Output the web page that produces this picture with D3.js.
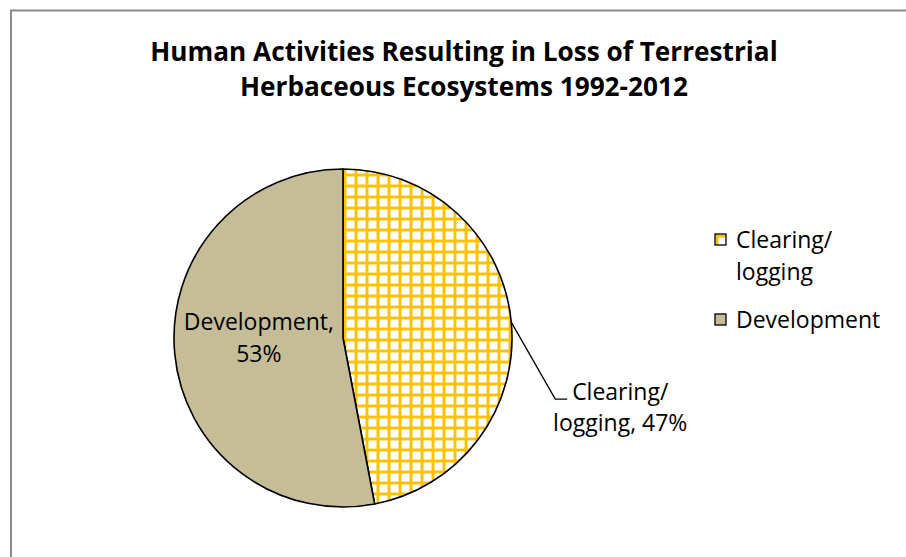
<!DOCTYPE html>
<html>
<head>
<meta charset="utf-8">
<script src="https://cdn.jsdelivr.net/npm/d3@7"></script>
<style>
  body { margin: 0; background: #fff; }
  text { font-family: "Open Sans", Lato, sans-serif; fill: #000; }
</style>
</head>
<body>
<div id="chart"></div>
<script>
const categories = ["Clearing/logging", "Development"];
const values = [47, 53];
const labelLines = [["Clearing/", "logging, 47%"], ["Development,", "53%"]];
const legendLines = [["Clearing/", "logging"], ["Development"]];
const titleLines = ["Human Activities Resulting in Loss of Terrestrial", "Herbaceous Ecosystems 1992-2012"];

const widthSvg = 906, heightSvg = 557;
const cx = 343, cy = 338, radius = 169;

const svg = d3.select("#chart").append("svg")
    .attr("width", widthSvg)
    .attr("height", heightSvg);

const defs = svg.append("defs");
const pat = defs.append("pattern")
    .attr("id", "grid")
    .attr("patternUnits", "userSpaceOnUse")
    .attr("width", 11).attr("height", 11);
pat.append("rect").attr("width", 11).attr("height", 11).attr("fill", "#fff");
pat.append("rect").attr("x", 0).attr("y", 0).attr("width", 11).attr("height", 4).attr("fill", "#FFC000").attr("opacity", 0.45);
pat.append("rect").attr("x", 0).attr("y", 0).attr("width", 4).attr("height", 11).attr("fill", "#FFC000").attr("opacity", 0.45);
pat.append("rect").attr("x", 0).attr("y", 1).attr("width", 11).attr("height", 2).attr("fill", "#FFC000");
pat.append("rect").attr("x", 1).attr("y", 0).attr("width", 2).attr("height", 11).attr("fill", "#FFC000");

const fills = ["url(#grid)", "#C4BD97"];

// chart frame
svg.append("rect")
    .attr("x", 11).attr("y", 10.5)
    .attr("width", 1000).attr("height", 1000)
    .attr("fill", "none")
    .attr("stroke", "#898989")
    .attr("stroke-width", 2);

// title
svg.append("g").selectAll("text")
    .data(titleLines)
    .enter().append("text")
    .attr("x", 464)
    .attr("y", (d, i) => 61 + i * 35)
    .attr("text-anchor", "middle")
    .style("font-size", "26.2px")
    .style("font-weight", "bold")
    .text(d => d);

const pie = d3.pie().sort(null).value(d => d);
const arcs = pie(values);
const arc = d3.arc().innerRadius(0).outerRadius(radius);
const edge = d3.arc().innerRadius(radius).outerRadius(radius);

const g = svg.append("g")
    .attr("transform", "translate(" + cx + "," + cy + ")");

g.selectAll(".slice")
    .data(arcs)
    .enter().append("path")
    .attr("class", "slice")
    .attr("d", arc)
    .attr("fill", (d, i) => fills[i])
    .attr("stroke", "#000")
    .attr("stroke-width", 1.6)
    .attr("stroke-linejoin", "round");

// inside label for Development
const dev = arcs[1];
const c = arc.centroid(dev);
g.append("text")
    .attr("text-anchor", "middle")
    .style("font-size", "23px")
    .selectAll("tspan")
    .data(labelLines[1])
    .enter().append("tspan")
    .attr("x", c[0])
    .attr("y", (d, i) => c[1] - 16 + i * 32)
    .text(d => d);

// outside label for Clearing/logging with leader
const clr = arcs[0];
const p0 = edge.centroid(clr);
const p1 = [p0[0] + 44, p0[1] + 77];
const p2 = [p1[0] + 12, p1[1]];
g.append("polyline")
    .attr("points", [p0, p1, p2].map(p => p.join(",")).join(" "))
    .attr("fill", "none")
    .attr("stroke", "#000")
    .attr("stroke-width", 1.3);
g.append("text")
    .attr("text-anchor", "middle")
    .style("font-size", "23px")
    .selectAll("tspan")
    .data(labelLines[0])
    .enter().append("tspan")
    .attr("x", p2[0] + 53)
    .attr("y", (d, i) => p2[1] + 1 + i * 31)
    .text(d => d);

// legend
const legend = svg.append("g").attr("transform", "translate(715,234)");
const rows = legend.selectAll("g")
    .data(categories)
    .enter().append("g")
    .attr("transform", (d, i) => "translate(0," + (i * 80) + ")");
rows.append("rect")
    .attr("width", 11).attr("height", 11)
    .attr("fill", (d, i) => fills[i])
    .attr("stroke", "#000")
    .attr("stroke-width", 1.3);
rows.append("text")
    .style("font-size", "23px")
    .selectAll("tspan")
    .data((d, i) => legendLines[i])
    .enter().append("tspan")
    .attr("x", 21)
    .attr("y", (d, i) => 14 + i * 32)
    .text(d => d);
</script>
</body>
</html>
